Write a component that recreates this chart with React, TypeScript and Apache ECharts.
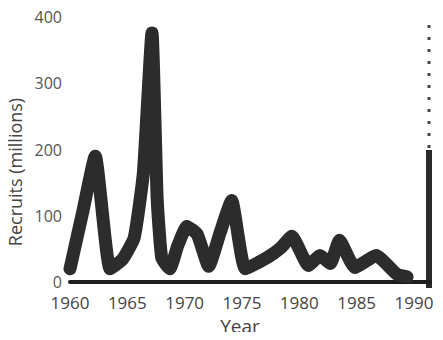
import React, { useEffect, useRef } from "react";
import * as echarts from "echarts";

const years = [1960, 1961.1, 1962.2, 1963.5, 1964.6, 1965.6, 1966.4, 1967.15, 1967.6, 1968.0, 1968.7, 1969.4, 1970.2, 1971.1, 1972.1, 1973.1, 1974.1, 1975.3, 1977.3, 1978.4, 1979.35, 1980.8, 1981.8, 1982.7, 1983.5, 1984.85, 1986.7, 1988.5, 1989.4];
const recruits = [20, 105, 190, 20, 35, 67, 165, 376, 127, 37, 20, 55, 84, 72, 24, 75, 123, 20, 38, 52, 69, 25, 40, 28, 63, 22, 40, 12, 8];
const yTicks = [0, 100, 200, 300, 400];
const xTickYears = [1960, 1965, 1970, 1975, 1980, 1985, 1990];

const FONT = "Open Sans";

export default function App() {
  const ref = useRef<HTMLDivElement>(null);
  useEffect(() => {
    const chart = echarts.init(ref.current!, null, { renderer: "svg" });
    chart.setOption({
      animation: false,
      backgroundColor: "#ffffff",
      grid: { left: 70, right: 13, top: 17, bottom: 55 },
      xAxis: {
        type: "value",
        min: 1960,
        max: 1991.4,
        interval: 5,
        name: "Year",
        nameLocation: "middle",
        nameGap: 32,
        nameTextStyle: { fontFamily: FONT, fontSize: 19, color: "#444", padding: [0, 20, 0, 0] },
        axisLine: { show: true, lineStyle: { color: "#1e1e1e", width: 4 } },
        axisTick: { show: false },
        splitLine: { show: false },
        axisLabel: {
          margin: 12,
          fontFamily: FONT,
          fontSize: 17,
          color: "#444",
          showMaxLabel: false,
          formatter: (v: number) => (xTickYears.indexOf(v) >= 0 ? String(v) : ""),
        },
      },
      yAxis: {
        type: "value",
        min: yTicks[0],
        max: yTicks[yTicks.length - 1],
        interval: 100,
        axisLine: { show: false },
        axisTick: { show: false },
        splitLine: { show: false },
        axisLabel: { margin: 8, fontFamily: FONT, fontSize: 16, color: "#555" },
      },
      graphic: [
        {
          type: "text",
          x: 15,
          y: 172,
          rotation: Math.PI / 2,
          style: {
            text: "Recruits (millions)",
            fontFamily: FONT,
            fontSize: 18,
            fill: "#444",
            textAlign: "center",
            textVerticalAlign: "middle",
          },
        },
        {
          type: "line",
          shape: { x1: 429, y1: 150, x2: 429, y2: 288 },
          style: { stroke: "#2a2a2a", lineWidth: 6 },
        },
        {
          type: "line",
          shape: { x1: 429, y1: 25, x2: 429, y2: 150 },
          style: { stroke: "#444", lineWidth: 3, lineDash: [3, 9] },
        },
      ],
      series: [
        {
          type: "line",
          data: years.map((y, i) => [y, recruits[i]]),
          showSymbol: false,
          smooth: 0.15,
          lineStyle: { color: "#2c2c2c", width: 13, cap: "round", join: "round" },
        },
      ],
    });
    return () => chart.dispose();
  }, []);
  return <div ref={ref} style={{ width: 443, height: 340, margin: -8 }} />;
}
